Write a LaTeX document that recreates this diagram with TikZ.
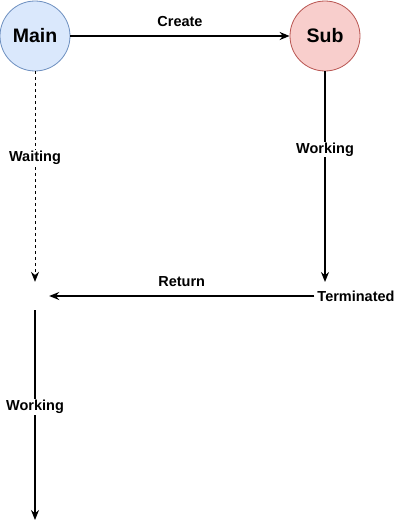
\documentclass[tikz,border=0pt]{standalone}
\usepackage{fontspec}
\setmainfont{Liberation Sans}
\usetikzlibrary{arrows.meta}

\definecolor{mainfill}{HTML}{DAE8FC}
\definecolor{mainline}{HTML}{6C8EBF}
\definecolor{subfill}{HTML}{F8CECC}
\definecolor{subline}{HTML}{B85450}

\begin{document}
\begin{tikzpicture}[x=1pt,y=-1pt,>={Stealth[length=10pt,width=8pt]},
		thread node/.style={circle,draw,line width=0.8pt,minimum size=70pt,inner sep=0pt,font=\fontsize{19.5}{22}\selectfont\bfseries},
		edge label/.style={fill=white,inner sep=1pt,font=\fontsize{14.5}{16}\selectfont\bfseries},
		flow/.style={->,line width=1.4pt},
		wait/.style={->,dashed,line width=0.7pt,dash pattern=on 3pt off 3pt}]
		\useasboundingbox (0,0) rectangle (406,530);
		% threads
		\node[thread node,fill=mainfill,draw=mainline] (main) at (35,36) {Main};
		\node[thread node,fill=subfill,draw=subline] (sub) at (325,36) {Sub};
		\node[edge label,inner sep=3pt] (term) at (356,296) {Terminated};
		\node[minimum size=28pt,inner sep=0pt] (join) at (35,296) {};
		\coordinate (subend) at (325,282);
		\coordinate (mainend) at (35,520);
		% connections
		\draw[flow] (main) -- node[edge label,above=8pt,fill=none] {Create} (sub);
		\draw[wait] (main) -- node[edge label,pos=0.41] {Waiting} (join);
		\draw[flow] (sub) -- node[edge label,pos=0.37] {Working} (subend);
		\draw[flow] (term) -- node[edge label,above=8pt,fill=none] {Return} (join);
		\draw[flow] (join) -- node[edge label,pos=0.46] {Working} (mainend);
\end{tikzpicture}
\end{document}
